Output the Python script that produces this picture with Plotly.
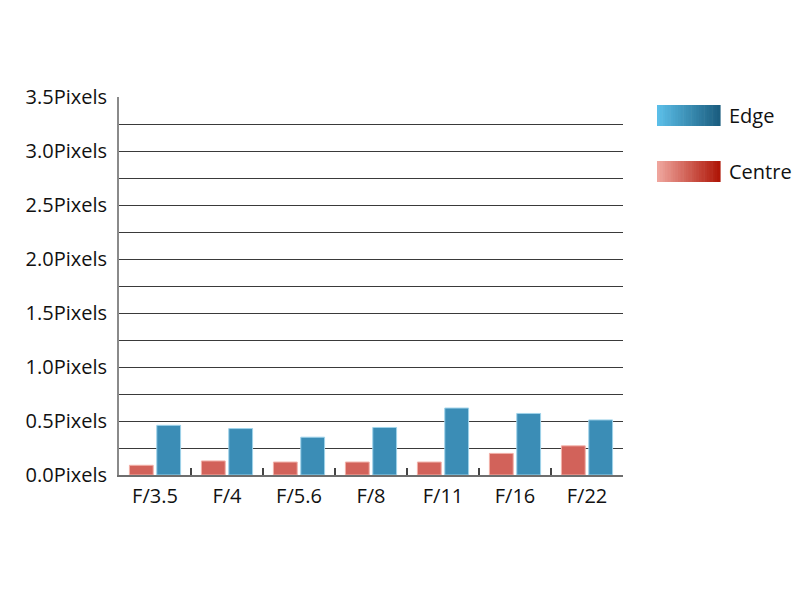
import plotly.graph_objects as go

categories = ["F/3.5", "F/4", "F/5.6", "F/8", "F/11", "F/16", "F/22"]
centre_values = [0.09, 0.13, 0.12, 0.12, 0.12, 0.20, 0.27]
edge_values = [0.46, 0.43, 0.35, 0.44, 0.62, 0.57, 0.51]
y_tick_values = [0, 0.5, 1.0, 1.5, 2.0, 2.5, 3.0, 3.5]
y_tick_labels = ["0.0Pixels", "0.5Pixels", "1.0Pixels", "1.5Pixels",
                 "2.0Pixels", "2.5Pixels", "3.0Pixels", "3.5Pixels"]
series_names = ["Edge", "Centre"]

FONT = "Open Sans"
OFF = 8  # page body margin

fig = go.Figure()
fig.add_trace(go.Bar(
    x=categories, y=centre_values, name="Centre",
    marker=dict(color="#d2625a", line=dict(color="#f2b0a8", width=1)),
    showlegend=False,
))
fig.add_trace(go.Bar(
    x=categories, y=edge_values, name="Edge",
    marker=dict(color="#3b8db6", line=dict(color="#9fd3ea", width=1)),
    showlegend=False,
))

def lerp(c1, c2, t):
    return "#%02x%02x%02x" % tuple(int(round(a + (b - a) * t)) for a, b in zip(c1, c2))

legend_specs = [
    ("Edge", (0x5c, 0xc0, 0xea), (0x1a, 0x5c, 0x7e), 105, 126),
    ("Centre", (0xf0, 0xa8, 0xa0), (0xae, 0x14, 0x05), 161, 182),
]
L, T, W, H = 119 - OFF, 97 - OFF, 504, 378
shapes = []
annotations = []
x0px, x1px = 657 - OFF, 720 - OFF
n = 24
for name, c1, c2, ytop, ybot in legend_specs:
    ytop -= OFF
    ybot -= OFF
    for i in range(n):
        xa = x0px + (x1px - x0px) * i / n
        xb = x0px + (x1px - x0px) * (i + 1) / n + 0.6
        shapes.append(dict(
            type="rect", xref="paper", yref="paper",
            x0=(xa - L) / W, x1=(xb - L) / W,
            y0=(T + H - ybot) / H, y1=(T + H - ytop) / H,
            fillcolor=lerp(c1, c2, (i + 0.5) / n), line=dict(width=0),
        ))
    annotations.append(dict(
        xref="paper", yref="paper", x=(727 - OFF - L) / W, y=(T + H - (ytop + ybot) / 2) / H,
        text=name, showarrow=False, xanchor="left", yanchor="middle",
        font=dict(family=FONT, size=20, color="#111111"),
    ))

fig.update_layout(
    width=800, height=600,
    margin=dict(l=L, r=800 - L - W, t=T, b=600 - T - H, autoexpand=False),
    paper_bgcolor="white", plot_bgcolor="white",
    barmode="group", bargap=0.24, bargroupgap=0.13,
    font=dict(family=FONT, size=20, color="#111111"),
    shapes=shapes, annotations=annotations,
    showlegend=False,
)
fig.update_xaxes(
    type="category", showgrid=False,
    showline=True, linecolor="#6e6e6e", linewidth=2,
    ticks="inside", tickson="boundaries", ticklen=7, tickwidth=2, tickcolor="#444444",
    tickfont=dict(family=FONT, size=20, color="#111111"),
    ticklabelstandoff=2,
)
fig.update_yaxes(
    range=[0, 3.5], tickvals=y_tick_values, ticktext=y_tick_labels,
    showgrid=True, gridcolor="#3a3a3a", gridwidth=1,
    minor=dict(dtick=0.25, tick0=0, showgrid=True, gridcolor="#3a3a3a", gridwidth=1),
    showline=True, linecolor="#8a8a8a", linewidth=2,
    ticks="", zeroline=False,
    tickfont=dict(family=FONT, size=20, color="#111111"),
    ticklabelstandoff=6,
)

fig.write_html("out.html")
